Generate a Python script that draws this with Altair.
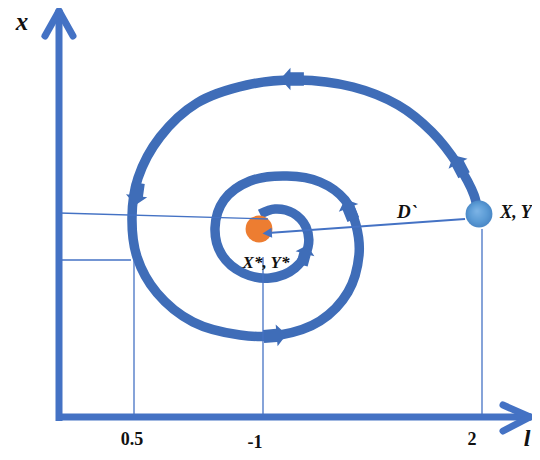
import altair as alt
import pandas as pd

# ---- diagram data (diagram units = reference pixels; y grows downward) ----
spiral_x = [478, 474, 458, 432, 398, 353, 297, 247, 197, 160, 138, 132, 137, 157, 193, 240, 280, 320,
            348, 359, 356, 345, 320, 287, 250, 224, 215, 222, 243, 270, 295, 308, 306, 293, 275, 260]
spiral_y = [213, 195, 165, 132, 105, 87, 80, 85, 103, 137, 178, 217, 257, 293, 322, 335, 335, 321,
            292, 255, 225, 200, 182, 176, 181, 200, 228, 255, 273, 278, 268, 247, 227, 213, 209, 214]

flow_x = [456, 286, 136, 281, 347, 306]
flow_y = [160, 79, 200, 335, 204, 250]
flow_angle = [332, 270, 188, 85, 338, 15]
flow_size = [460, 500, 460, 480, 440, 380]

guide_x = [59, 59, 134, 263, 482]
guide_y = [213, 260, 260, 257, 229]
guide_x2 = [268, 131, 134, 263, 482]
guide_y2 = [219, 260, 418, 418, 418]

axis_x = [59, 56]
axis_y = [421, 417]
axis_x2 = [59, 530]
axis_y2 = [11, 417]

wing_x = [45, 73, 503, 503]
wing_y = [36, 36, 405, 431]
wing_x2 = [59, 59, 530, 530]
wing_y2 = [11, 11, 417, 417]

orange_x, orange_y = [259], [229]
blue_x, blue_y = [479], [214]

dist_x, dist_y, dist_x2, dist_y2 = [465], [219], [268], [233]

tick_labels = ["0.5", "-1", "2"]
tick_x = [132, 255, 472]
tick_y = [445, 448, 445]

name_labels = ["D`", "X, Y", "X*, Y*"]
name_x = [407, 516, 266]
name_y = [218, 218, 268]
name_size = [19, 18, 17]

axis_labels = ["x", "l"]
axis_lx = [22, 527]
axis_ly = [30, 446]
axis_lsize = [25, 24]

BLUE = "#4472C4"
SPIRAL = "#3F6DB8"

xs = alt.Scale(domain=[8, 532], range=[0, 524], nice=False, zero=False)
ys = alt.Scale(domain=[8, 452], range=[0, 444], nice=False, zero=False)


def X(f):
    return alt.X(f, type="quantitative", scale=xs, axis=None)


def Y(f):
    return alt.Y(f, type="quantitative", scale=ys, axis=None)


spiral_df = pd.DataFrame({"x": spiral_x, "y": spiral_y, "i": range(len(spiral_x))})
spiral = alt.Chart(spiral_df).mark_line(
    interpolate="catmull-rom", strokeWidth=9.5, color=SPIRAL, strokeCap="butt"
).encode(x=X("x"), y=Y("y"), order=alt.Order("i:Q"))

arrow_path = "M0,-0.5L1,0.4L0.6,0.4L0.6,1.6L-0.6,1.6L-0.6,0.4L-1,0.4Z"
flow_df = pd.DataFrame({"x": flow_x, "y": flow_y, "a": flow_angle, "s": flow_size})
flows = alt.Chart(flow_df).mark_point(
    shape=arrow_path, filled=True, color=SPIRAL, opacity=1, strokeWidth=0
).encode(
    x=X("x"), y=Y("y"),
    angle=alt.Angle("a:Q", scale=None),
    size=alt.Size("s:Q", scale=None, legend=None),
)

orange = alt.Chart(pd.DataFrame({"x": orange_x, "y": orange_y})).mark_point(
    filled=True, size=720, opacity=1, shape="circle", color="#ED7D31"
).encode(x=X("x"), y=Y("y"))

blue_fill = alt.RadialGradient(
    gradient="radial",
    x1=0.42, y1=0.38, r1=0.0, x2=0.5, y2=0.5, r2=0.55,
    stops=[alt.GradientStop(color="#7DB4E6", offset=0.0),
           alt.GradientStop(color="#5B9BD5", offset=0.6),
           alt.GradientStop(color="#4683C2", offset=1.0)],
)
blue = alt.Chart(pd.DataFrame({"x": blue_x, "y": blue_y})).mark_point(
    filled=True, size=720, opacity=1, shape="circle", fill=blue_fill, strokeWidth=0
).encode(x=X("x"), y=Y("y"))

guide_df = pd.DataFrame({"x": guide_x, "y": guide_y, "x2": guide_x2, "y2": guide_y2})
guides = alt.Chart(guide_df).mark_rule(color=BLUE, strokeWidth=1.3).encode(
    x=X("x"), y=Y("y"), x2="x2", y2="y2"
)

dist_df = pd.DataFrame({"x": dist_x, "y": dist_y, "x2": dist_x2, "y2": dist_y2})
dist = alt.Chart(dist_df).mark_rule(color=BLUE, strokeWidth=2).encode(
    x=X("x"), y=Y("y"), x2="x2", y2="y2"
)
dist_head = alt.Chart(dist_df).mark_point(
    shape="M0,-1L0.9,0.7L-0.9,0.7Z", filled=True, color=BLUE, size=120, angle=266, opacity=1
).encode(x=X("x2"), y=Y("y2"))

axis_df = pd.DataFrame({"x": axis_x, "y": axis_y, "x2": axis_x2, "y2": axis_y2})
axes = alt.Chart(axis_df).mark_rule(color=BLUE, strokeWidth=7, strokeCap="butt").encode(
    x=X("x"), y=Y("y"), x2="x2", y2="y2"
)
wing_df = pd.DataFrame({"x": wing_x, "y": wing_y, "x2": wing_x2, "y2": wing_y2})
wings = alt.Chart(wing_df).mark_rule(color=BLUE, strokeWidth=7, strokeCap="round").encode(
    x=X("x"), y=Y("y"), x2="x2", y2="y2"
)

tick_df = pd.DataFrame({"t": tick_labels, "x": tick_x, "y": tick_y})
ticks = alt.Chart(tick_df).mark_text(
    font="Liberation Serif", fontWeight="bold", fontSize=18, color="#111111", baseline="alphabetic"
).encode(x=X("x"), y=Y("y"), text="t:N")

name_df = pd.DataFrame({"t": name_labels, "x": name_x, "y": name_y, "s": name_size})
names = alt.Chart(name_df).mark_text(
    font="Liberation Serif", fontWeight="bold", fontStyle="italic", color="#111111",
    baseline="alphabetic"
).encode(x=X("x"), y=Y("y"), text="t:N", size=alt.Size("s:Q", scale=None, legend=None))

alab_df = pd.DataFrame({"t": axis_labels, "x": axis_lx, "y": axis_ly, "s": axis_lsize})
alabs = alt.Chart(alab_df).mark_text(
    font="Liberation Serif", fontWeight="bold", fontStyle="italic", color="#111111",
    baseline="alphabetic"
).encode(x=X("x"), y=Y("y"), text="t:N", size=alt.Size("s:Q", scale=None, legend=None))

chart = alt.layer(
    spiral, flows, orange, blue, guides, dist, dist_head, axes, wings, ticks, names, alabs
).properties(
    width=524, height=444, autosize=alt.AutoSizeParams(type="none"), padding=0
).configure_view(stroke=None)

chart.save("out.html", embed_options={"renderer": "svg", "actions": False})
